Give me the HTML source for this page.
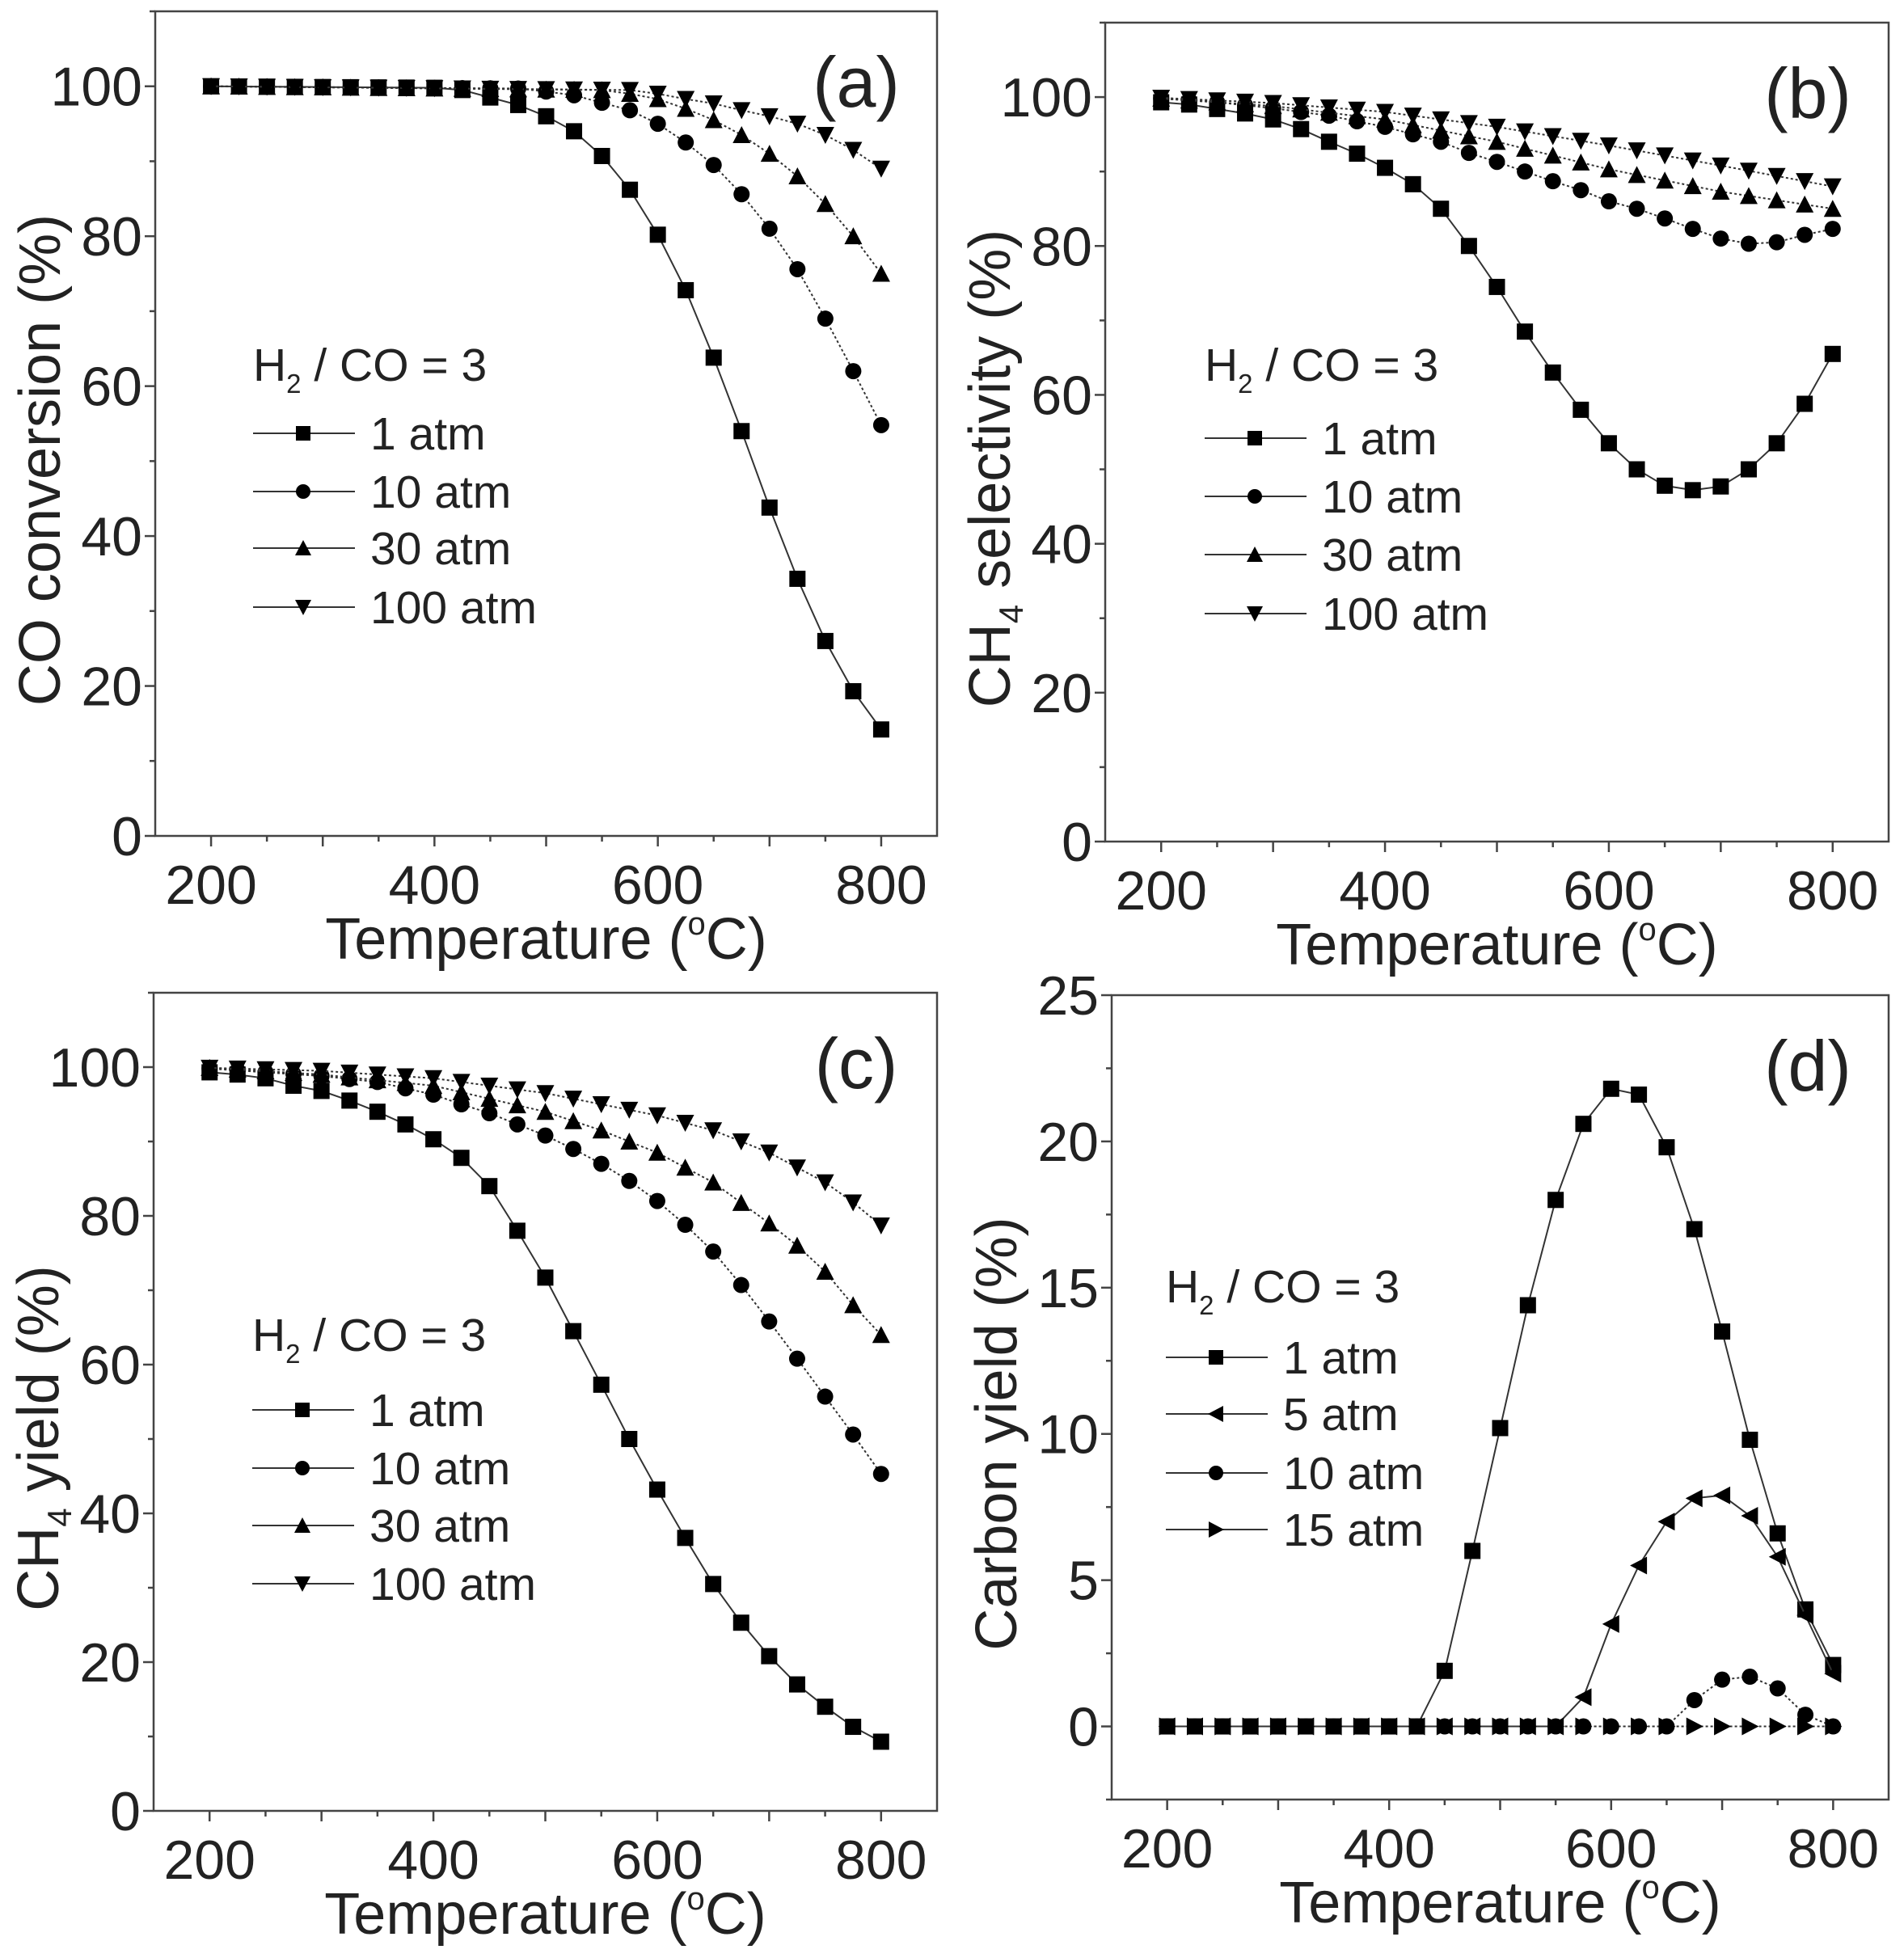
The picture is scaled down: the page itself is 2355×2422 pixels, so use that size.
<!DOCTYPE html>
<html><head><meta charset="utf-8"><style>
html,body{margin:0;padding:0;background:#fff;}
svg{display:block;}
text{font-family:"Liberation Sans",sans-serif;fill:#222;}
</style></head><body>
<svg id="s" width="2355" height="2422" xmlns="http://www.w3.org/2000/svg"></svg>
<script>
const S=document.getElementById('s');let h='';
const X=[];for(let x=200;x<=800;x+=25)X.push(x);
function fill(pairs){const m={};pairs.forEach(p=>m[p[0]]=p[1]);const ks=Object.keys(m).map(Number).sort((a,b)=>a-b);
 return X.map(x=>{if(m[x]!==undefined)return m[x];let lo=null,hi=null;for(const k of ks){if(k<=x)lo=k;if(k>=x&&hi===null)hi=k;}
 if(lo===null)return m[hi];if(hi===null)return m[lo];return m[lo]+(m[hi]-m[lo])*(x-lo)/(hi-lo);});}
function marker(t,x,y,s){s=s||10;
 if(t=='sq')return `<rect x="${x-s}" y="${y-s}" width="${2*s}" height="${2*s}" fill="#000"/>`;
 if(t=='ci')return `<circle cx="${x}" cy="${y}" r="${s}" fill="#000"/>`;
 if(t=='up')return `<polygon points="${x},${y-s-1} ${x-s-1},${y+s} ${x+s+1},${y+s}" fill="#000"/>`;
 if(t=='dn')return `<polygon points="${x},${y+s+1} ${x-s-1},${y-s} ${x+s+1},${y-s}" fill="#000"/>`;
 if(t=='lt')return `<polygon points="${x-s-1},${y} ${x+s},${y-s-1} ${x+s},${y+s+1}" fill="#000"/>`;
 if(t=='rt')return `<polygon points="${x+s+1},${y} ${x-s},${y-s-1} ${x-s},${y+s+1}" fill="#000"/>`;}
function panel(o){
 const {L,T,R,B,ymin,ymax,yt,ym,label,ytitle,series,leg}=o;
 const px=x=>L+(x-150)/700*(R-L), py=y=>B-(y-ymin)/(ymax-ymin)*(B-T);
 h+=`<rect x="${L}" y="${T}" width="${R-L}" height="${B-T}" fill="none" stroke="#444" stroke-width="2.5"/>`;
 for(let x=200;x<=800;x+=50){const big=x%100==0;h+=`<line x1="${px(x)}" y1="${B}" x2="${px(x)}" y2="${B+(big?13:7)}" stroke="#444" stroke-width="2.5"/>`;
  if(x%200==0)h+=`<text x="${px(x)}" y="${B+84}" font-size="68" text-anchor="middle">${x}</text>`;}
 for(let y=ymin;y<=ymax+0.01;y+=ym){const big=Math.abs(y/yt-Math.round(y/yt))<1e-6;h+=`<line x1="${L}" y1="${py(y)}" x2="${L-(big?13:7)}" y2="${py(y)}" stroke="#444" stroke-width="2.5"/>`;
  if(big&&y>=0&&y<=(ymax>50?100:25))h+=`<text x="${L-16}" y="${py(y)+24}" font-size="68" text-anchor="end">${y}</text>`;}
 h+=`<text x="${(px(200)+px(800))/2}" y="${B+152}" font-size="72" text-anchor="middle">Temperature (<tspan font-size="40" dy="-30">o</tspan><tspan dy="30">C)</tspan></text>`;
 h+=`<text transform="translate(${L-118},${(T+B)/2+45}) rotate(-90)" font-size="72" text-anchor="middle">${ytitle}</text>`;
 h+=`<text x="${R-100}" y="${T+118}" font-size="88" text-anchor="middle">${label}</text>`;
 series.forEach(s=>{const ys=fill(s.d);let d='';X.forEach((x,i)=>{d+=(i?'L':'M')+px(x).toFixed(1)+','+py(ys[i]).toFixed(1);});
  h+=`<path d="${d}" fill="none" stroke="#333" stroke-width="2" ${s.dash?'stroke-dasharray="3,3"':''}/>`;
  X.forEach((x,i)=>h+=marker(s.m,px(x),py(ys[i])));});
 h+=`<text x="${leg.x}" y="${leg.h+20}" font-size="57">H<tspan font-size="33" dy="15">2</tspan><tspan dy="-15"> / CO = 3</tspan></text>`;
 leg.rows.forEach((r,i)=>{const y=leg.ys[i];h+=`<line x1="${leg.x}" y1="${y}" x2="${leg.x+126}" y2="${y}" stroke="#333" stroke-width="2"/>`+marker(r[0],leg.x+62,y,9)+`<text x="${leg.x+145}" y="${y+20}" font-size="57">${r[1]}</text>`;});
}
panel({L:192,T:14,R:1159,B:1034,ymin:0,ymax:110,yt:20,ym:10,label:'(a)',ytitle:'CO conversion (%)',
 series:[{m:'sq',d:[[200,100],[400,99.8],[425,99.5],[450,98.5],[475,97.5],[500,96],[525,94],[550,90.7],[575,86.2],[600,80.2],[625,72.8],[650,63.8],[675,54],[700,43.8],[725,34.3],[750,26],[775,19.3],[800,14.2]]},
 {m:'ci',dash:1,d:[[200,100],[475,99.7],[500,99.3],[525,98.8],[550,97.8],[575,96.8],[600,95],[625,92.5],[650,89.5],[675,85.6],[700,81],[725,75.6],[750,69],[775,62],[800,54.8]]},
 {m:'up',dash:1,d:[[200,100],[550,99.5],[575,99],[600,98.3],[625,97],[650,95.5],[675,93.5],[700,91],[725,88],[750,84.3],[775,80],[800,75]]},
 {m:'dn',dash:1,d:[[200,100],[575,99.5],[600,99],[625,98.3],[650,97.7],[675,96.8],[700,96],[725,95],[750,93.5],[775,91.5],[800,89]]}],
 leg:{x:313,h:451,ys:[536,608,678,751],rows:[['sq','1 atm'],['ci','10 atm'],['up','30 atm'],['dn','100 atm']]}});
panel({L:1367,T:28,R:2336,B:1041,ymin:0,ymax:110,yt:20,ym:10,label:'(b)',ytitle:'CH<tspan font-size="42" dy="16">4</tspan><tspan dy="-16"> selectivity (%)</tspan>',
 series:[{m:'sq',d:[[200,99.3],[225,99],[250,98.4],[275,97.8],[300,97],[325,95.7],[350,94],[375,92.4],[400,90.5],[425,88.3],[450,85],[475,80],[500,74.5],[525,68.5],[550,63],[575,58],[600,53.5],[625,50],[650,47.8],[675,47.2],[700,47.7],[725,50],[750,53.5],[775,58.8],[800,65.5]]},
 {m:'ci',dash:1,d:[[200,99.8],[250,99.3],[300,98.5],[350,97.5],[400,96],[425,95],[450,94],[475,92.5],[500,91.3],[525,90],[550,88.7],[575,87.5],[600,86],[625,85],[650,83.7],[675,82.3],[700,81],[725,80.3],[750,80.5],[775,81.5],[800,82.3]]},
 {m:'up',dash:1,d:[[200,99.8],[300,98.8],[400,97],[500,94],[600,90.3],[700,87.3],[800,85]]},
 {m:'dn',dash:1,d:[[200,99.9],[300,99.2],[400,98],[500,96],[600,93.5],[700,90.8],[800,88]]}],
 leg:{x:1490,h:451,ys:[542,614,686,759],rows:[['sq','1 atm'],['ci','10 atm'],['up','30 atm'],['dn','100 atm']]}});
panel({L:190,T:1228,R:1159,B:2240,ymin:0,ymax:110,yt:20,ym:10,label:'(c)',ytitle:'CH<tspan font-size="42" dy="16">4</tspan><tspan dy="-16"> yield (%)</tspan>',
 series:[{m:'sq',d:[[200,99.3],[225,99],[250,98.5],[275,97.5],[300,96.8],[325,95.5],[350,94],[375,92.3],[400,90.3],[425,87.8],[450,84],[475,78],[500,71.7],[525,64.5],[550,57.3],[575,50],[600,43.2],[625,36.7],[650,30.5],[675,25.3],[700,20.8],[725,17],[750,14],[775,11.3],[800,9.3]]},
 {m:'ci',dash:1,d:[[200,99.8],[300,98.8],[350,98],[400,96.3],[425,95],[450,93.8],[475,92.3],[500,90.8],[525,89],[550,87],[575,84.7],[600,82],[625,78.8],[650,75.2],[675,70.7],[700,65.8],[725,60.8],[750,55.7],[775,50.6],[800,45.3]]},
 {m:'up',dash:1,d:[[200,99.9],[300,99],[400,97.5],[500,94],[550,91.5],[600,88.5],[650,84.5],[700,79],[725,76],[750,72.5],[775,68],[800,64]]},
 {m:'dn',dash:1,d:[[200,99.9],[300,99.5],[400,98.5],[500,96.5],[600,93.5],[650,91.5],[700,88.5],[750,84.5],[775,81.8],[800,78.7]]}],
 leg:{x:312,h:1651,ys:[1744,1816,1887,1959],rows:[['sq','1 atm'],['ci','10 atm'],['up','30 atm'],['dn','100 atm']]}});
panel({L:1375,T:1231,R:2336,B:2226,ymin:-2.5,ymax:25,yt:5,ym:2.5,label:'(d)',ytitle:'Carbon yield (%)',
 series:[{m:'sq',d:[[200,0],[425,0],[450,1.9],[475,6],[500,10.2],[525,14.4],[550,18],[575,20.6],[600,21.8],[625,21.6],[650,19.8],[675,17],[700,13.5],[725,9.8],[750,6.6],[775,4],[800,2.1]]},
 {m:'lt',d:[[200,0],[550,0],[575,1],[600,3.5],[625,5.5],[650,7],[675,7.8],[700,7.9],[725,7.2],[750,5.8],[775,3.8],[800,1.8]]},
 {m:'ci',dash:1,d:[[200,0],[650,0],[675,0.9],[700,1.6],[725,1.7],[750,1.3],[775,0.4],[800,0]]},
 {m:'rt',dash:1,d:[[200,0],[800,0]]}],
 leg:{x:1442,h:1591,ys:[1679,1749,1822,1892],rows:[['sq','1 atm'],['lt','5 atm'],['ci','10 atm'],['rt','15 atm']]}});
S.innerHTML=h;
</script>
</body></html>
